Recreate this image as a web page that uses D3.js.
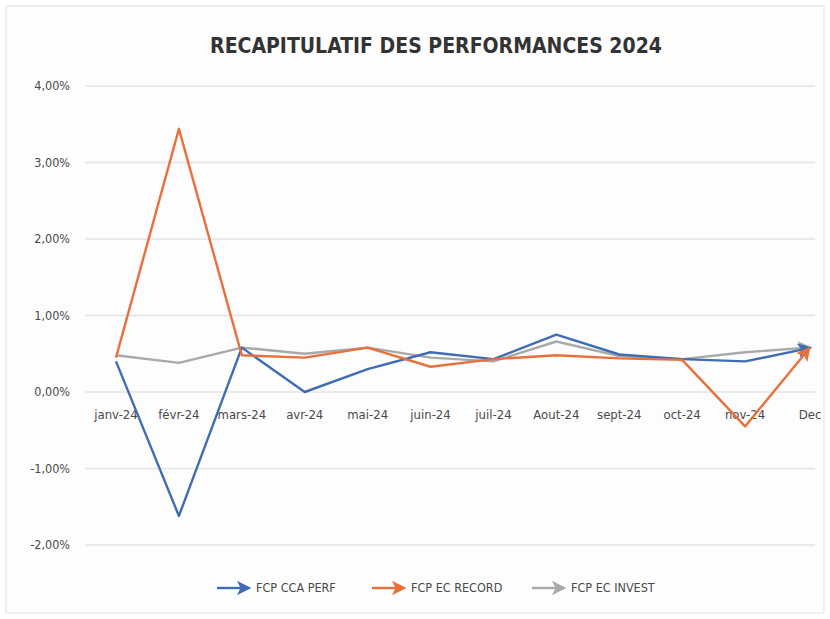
<!DOCTYPE html>
<html>
<head>
<meta charset="utf-8">
<script src="https://cdn.jsdelivr.net/npm/d3@7"></script>
<style>
  body { margin: 0; background: #fff; }
  svg { display: block; }
</style>
</head>
<body>
<div id="chart"></div>
<script>
const months = ["janv-24", "févr-24", "mars-24", "avr-24", "mai-24", "juin-24",
  "juil-24", "Aout-24", "sept-24", "oct-24", "nov-24", "Dec"];
const seriesNames = ["FCP CCA PERF", "FCP EC RECORD", "FCP EC INVEST"];
const ccaPerf = [0.40, -1.62, 0.58, 0.00, 0.30, 0.52, 0.43, 0.75, 0.49, 0.43, 0.40, 0.57];
const ecRecord = [0.45, 3.44, 0.48, 0.45, 0.58, 0.33, 0.43, 0.48, 0.44, 0.42, -0.45, 0.55];
const ecInvest = [0.48, 0.38, 0.58, 0.50, 0.58, 0.45, 0.40, 0.66, 0.47, 0.43, 0.52, 0.58];
const yTicks = [4, 3, 2, 1, 0, -1, -2];
const colors = ["#3f6db5", "#e8703a", "#a9a9a9"];

const W = 830, H = 619;
const font = "'DejaVu Sans Condensed', 'Liberation Sans', Arial, sans-serif";

const svg = d3.select("#chart").append("svg")
  .attr("width", W).attr("height", H);

// frame
svg.append("rect")
  .attr("x", 6).attr("y", 6).attr("width", W - 12).attr("height", H - 12)
  .attr("fill", "#fdfdfd").attr("stroke", "#e2e2e2");

svg.append("text")
  .attr("x", 436).attr("y", 53)
  .attr("text-anchor", "middle")
  .style("font-family", font)
  .style("font-size", "21px")
  .style("font-weight", "bold")
  .style("fill", "#333")
  .text("RECAPITULATIF DES PERFORMANCES 2024");

const x = d3.scalePoint().domain(months).range([116, 808]);
const y = d3.scaleLinear().domain([-2, 4]).range([545, 86]);
const fmt = v => d3.format(".2f")(v).replace(".", ",").replace("\u2212", "-") + "%";

// gridlines + y labels
svg.append("g").selectAll("line").data(yTicks).enter().append("line")
  .attr("x1", 85).attr("x2", 815)
  .attr("y1", d => y(d)).attr("y2", d => y(d))
  .attr("stroke", "#e3e3e3").attr("stroke-width", 1.5);

svg.append("g").selectAll("text").data(yTicks).enter().append("text")
  .attr("x", 70).attr("y", d => y(d) + 4)
  .attr("text-anchor", "end")
  .style("font-family", font).style("font-size", "12.5px").style("fill", "#4a4a4a")
  .text(fmt);

// x labels
svg.append("g").selectAll("text").data(months).enter().append("text")
  .attr("x", d => d === "Dec" ? x(d) + 2 : x(d))
  .attr("y", 419)
  .attr("text-anchor", "middle")
  .style("font-family", font).style("font-size", "13px").style("fill", "#4a4a4a")
  .text(d => d);

// arrow markers
const defs = svg.append("defs");
colors.forEach((c, i) => {
  defs.append("marker")
    .attr("id", "arrow" + i)
    .attr("viewBox", "0 0 10 10")
    .attr("refX", 7).attr("refY", 5)
    .attr("markerWidth", 6).attr("markerHeight", 6)
    .attr("orient", "auto")
    .append("path")
    .attr("d", "M0,0 L10,5 L0,10 L2.5,5 z")
    .attr("fill", c);
});

const line = d3.line()
  .x((d, i) => x(months[i]))
  .y(d => y(d));

const data = [ccaPerf, ecRecord, ecInvest];
// draw order: invest under, then perf, record on top
[2, 0, 1].forEach(i => {
  svg.append("path")
    .datum(data[i])
    .attr("d", line)
    .attr("fill", "none")
    .attr("stroke", colors[i])
    .attr("stroke-width", 2.4)
    .attr("stroke-linejoin", "round")
    .attr("marker-end", `url(#arrow${i})`);
});

// legend
const legendX = [217, 372, 532];
const lg = svg.append("g");
seriesNames.forEach((name, i) => {
  lg.append("line")
    .attr("x1", legendX[i]).attr("x2", legendX[i] + 30)
    .attr("y1", 588).attr("y2", 588)
    .attr("stroke", colors[i]).attr("stroke-width", 2.4)
    .attr("marker-end", `url(#arrow${i})`);
  lg.append("text")
    .attr("x", legendX[i] + 39).attr("y", 592)
    .style("font-family", font).style("font-size", "12.5px").style("fill", "#4a4a4a")
    .text(name);
});
</script>
</body>
</html>
